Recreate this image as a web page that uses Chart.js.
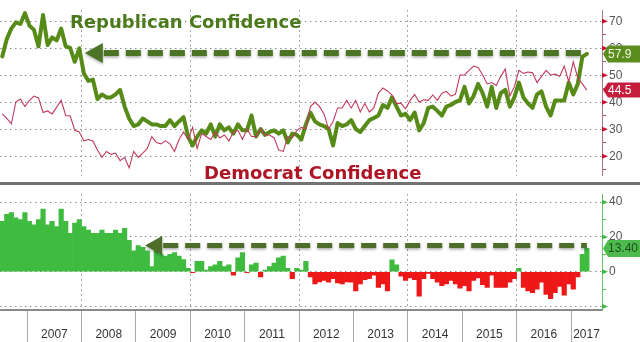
<!DOCTYPE html>
<html><head><meta charset="utf-8">
<script src="https://cdn.jsdelivr.net/npm/chart.js@4.4.1/dist/chart.umd.min.js"></script>
<style>
html,body{margin:0;padding:0;background:#fff;}
#wrap{position:relative;width:640px;height:342px;overflow:hidden;background:#fff;}
canvas{position:absolute;left:0;}
.ann{position:absolute;font:bold 18px "DejaVu Sans";line-height:18px;white-space:nowrap;}
</style></head><body>
<div id="wrap">
<canvas id="top" width="640" height="186" style="top:0"></canvas>
<canvas id="bot" width="640" height="158" style="top:184px"></canvas>
<div style="position:absolute;left:0;top:182px;width:640px;height:3px;background:#727272"></div>
<div class="ann" style="left:70px;top:13px;color:#4b7a1c">Republican Confidence</div>
<div class="ann" style="left:204px;top:164px;color:#ad1424">Democrat Confidence</div>
</div>
<script>
// ---- data (monthly, Jul 2006 .. Apr 2017) ----
const firstYear = 2006, firstMonth = 7;
const yearLabels = ['2007','2008','2009','2010','2011','2012','2013','2014','2015','2016','2017'];

const republican = [
57.0,63.4,67.3,69.6,69.0,73.0,68.4,66.8,60.7,72.3,
61.2,64.0,62.9,67.3,60.7,60.1,55.0,60.0,50.7,47.9,
48.4,41.2,42.9,41.8,41.8,42.9,44.6,38.4,34.0,31.2,
31.8,34.0,32.9,31.8,31.8,31.2,31.2,33.4,31.2,32.9,
34.5,27.3,24.0,27.3,29.6,28.4,31.8,27.3,31.8,29.6,
30.7,28.4,31.8,29.6,29.6,35.1,27.3,30.1,27.9,29.0,
29.6,28.4,29.6,25.1,28.4,27.9,26.2,31.8,36.2,32.9,
31.8,31.2,30.1,24.0,32.3,31.2,31.8,33.4,30.1,29.0,
31.2,33.4,34.2,35.1,39.0,37.9,41.8,38.4,35.1,35.7,
33.4,36.2,29.6,32.3,37.9,38.4,36.8,35.1,38.4,39.0,
40.1,40.7,45.7,39.6,42.3,46.8,43.4,38.4,45.7,37.9,
43.4,44.6,38.4,41.8,47.3,41.8,39.6,37.9,42.9,44.0,
38.4,35.1,40.7,40.7,40.7,47.3,42.9,46.8,56.8,57.9];

const democrat = [
35.7,34.0,32.0,40.1,41.2,38.4,40.7,42.3,41.6,36.2,
36.8,35.7,38.2,40.7,35.1,34.9,29.6,29.0,25.7,26.2,
25.7,22.3,19.6,21.8,20.7,21.2,18.4,19.6,15.7,21.8,
19.6,21.2,22.9,27.3,25.1,24.6,25.7,24.6,21.8,26.2,
29.0,26.2,30.7,22.9,28.4,27.3,26.2,29.0,26.8,27.9,
25.7,29.0,29.6,26.2,30.1,27.3,27.3,30.1,27.9,27.9,
26.8,22.3,21.8,27.3,26.8,29.6,30.7,30.1,38.4,40.1,
38.4,35.7,30.1,32.9,37.9,37.9,40.7,37.9,40.7,36.4,
39.6,36.4,37.9,43.4,45.3,44.2,42.7,39.6,39.6,37.6,
40.7,42.9,40.1,40.9,40.7,42.7,40.7,43.4,44.0,42.3,
42.9,50.1,50.1,51.8,53.4,52.9,50.1,46.8,47.3,46.2,
49.6,52.3,42.3,45.7,51.8,50.7,51.2,50.9,47.3,49.6,
51.8,50.1,50.4,49.6,53.4,47.6,55.0,49.0,46.8,44.5];

const spread = [
29,33,34,31,30,34,29,27,30,36,
27,29,26,36,29,22,28,30,26,24,
22,22,24,22,22,24,22,25,18,12,
15,14,12,3,12,10,9,10,11,9,
7,2,-0.5,6,6,1,3,4,6,3,
4,-2,8,11,-0.5,4,5,-3,1,3,
5,8,9,2,-4,2,1,6,-3,-7,
-5.8,-5,-6,-4,-6.5,-7,-5.8,-6,-11,-7,
-4.5,-4,-2,-9,-7,-11,6.8,4,-2.5,-5,
-3.5,-4.5,-14,-4,-1,-4,-6,-8,-7,-5,
-7,-9.5,-8,-11,-5,-3.5,-7.5,-9,-2,-9,
-9,-9,-6,-4,2,-9,-11,-12,-10,-6,
-13,-15.5,-12,-8.5,-13.5,-7,-10,-3,10,13.4];

const topTicks = [15,20,25,30,35,40,45,50,55,60,65,70];
const botTicks = [-20,-10,0,10,20,30,40];

// ---- build ----
const X_MIN = 2006.5, X_MAX = 2017.57;
const xOf = i => firstYear + (firstMonth - 1 + i + 0.5) / 12;
const pts = arr => arr.map((v, i) => ({x: xOf(i), y: v}));
const lastX = xOf(republican.length - 1);

function yearTicks(scale) {
  const t = [];
  yearLabels.forEach(lab => {
    const yr = +lab;
    t.push({value: yr});
    t.push({value: Math.min(yr + 0.5, (yr + X_MAX) / 2)});
  });
  scale.ticks = t;
}
const isBoundary = v => Math.abs(v - Math.round(v)) < 1e-6;
const dotted = [1.5, 3.5];

const tagPlugin = {
  id: 'tags',
  afterDraw(chart, args, o) {
    const ctx = chart.ctx, y = chart.scales.y, r = chart.chartArea.right;
    ctx.save();
    (o.majors || []).forEach(v => {
      const p = y.getPixelForValue(v);
      ctx.fillStyle = o.triColor;
      ctx.beginPath(); ctx.moveTo(r, p - 2.5); ctx.lineTo(r + 6, p); ctx.lineTo(r, p + 2.5); ctx.closePath(); ctx.fill();
    });
    (o.items || []).forEach(it => {
      const yc = y.getPixelForValue(it.value), h = it.h;
      ctx.fillStyle = it.bg;
      ctx.beginPath();
      ctx.moveTo(r + 1, yc); ctx.lineTo(r + 6, yc - h / 2); ctx.lineTo(640, yc - h / 2);
      ctx.lineTo(640, yc + h / 2); ctx.lineTo(r + 6, yc + h / 2); ctx.closePath(); ctx.fill();
      ctx.fillStyle = it.fg; ctx.font = '12px "Liberation Sans"'; ctx.textBaseline = 'middle'; ctx.textAlign = 'left';
      ctx.fillText(it.text, r + 6, yc + 0.5);
    });
    ctx.restore();
  }
};
const arrowPlugin = {
  id: 'arrow',
  afterDatasetsDraw(chart, args, o) {
    const ctx = chart.ctx, xs = chart.scales.x, ys = chart.scales.y;
    const yy = ys.getPixelForValue(o.value) + (o.dy || 0), x0 = xs.getPixelForValue(o.from), x1 = xs.getPixelForValue(o.to);
    ctx.save();
    ctx.shadowColor = 'rgba(0,0,0,0.35)'; ctx.shadowBlur = 3; ctx.shadowOffsetY = 1.5;
    ctx.strokeStyle = o.color; ctx.lineWidth = o.width; ctx.setLineDash([15, 7]);
    ctx.beginPath(); ctx.moveTo(x0 + o.head + 1, yy); ctx.lineTo(x1, yy); ctx.stroke();
    ctx.setLineDash([]); ctx.fillStyle = o.color;
    ctx.beginPath(); ctx.moveTo(x0, yy); ctx.lineTo(x0 + o.head, yy - o.head / 2 - 1); ctx.lineTo(x0 + o.head, yy + o.head / 2 + 1); ctx.closePath(); ctx.fill();
    ctx.restore();
  }
};

const font12 = {family: '"Liberation Sans"', size: 12};

new Chart(document.getElementById('top'), {
  type: 'line',
  data: {datasets: [
    {data: pts(democrat), borderColor: '#c03a5c', borderWidth: 1.1, pointRadius: 0, tension: 0},
    {data: pts(republican), borderColor: '#578b17', borderWidth: 4, pointRadius: 0, tension: 0, borderJoinStyle: 'round', borderCapStyle: 'round'}
  ]},
  plugins: [arrowPlugin, tagPlugin],
  options: {
    responsive: false, animation: false, devicePixelRatio: 1, layout: {padding: 0},
    plugins: {
      legend: {display: false}, tooltip: {enabled: false},
      arrow: {value: republican[republican.length - 1], from: 2008.06, to: lastX, color: '#4b7424', width: 6, head: 18, dy: -1},
      tags: {triColor: '#c8102e', majors: [20, 30, 40, 50, 60, 70], items: [
        {value: republican[republican.length - 1], text: republican[republican.length - 1].toFixed(1), bg: '#5b8c1e', fg: '#eef5e0', h: 17},
        {value: democrat[democrat.length - 1], text: democrat[democrat.length - 1].toFixed(1), bg: '#c41e3c', fg: '#ffffff', h: 15}
      ]}
    },
    scales: {
      x: {type: 'linear', min: X_MIN, max: X_MAX, afterBuildTicks: yearTicks, afterFit: s => { s.height = 2; },
        ticks: {display: false},
        grid: {drawTicks: false, color: c => (c.tick && isBoundary(c.tick.value) && Math.round(c.tick.value) % 2 === 0) ? '#8c8c8c' : 'transparent'},
        border: {display: false, dash: dotted}},
      y: {position: 'right', min: 12.77, max: 74.1,
        afterBuildTicks: s => { s.ticks = topTicks.map(v => ({value: v})); },
        afterFit: s => { s.width = 38; },
        ticks: {autoSkip: false, padding: 3, color: '#555', font: font12, callback: v => v % 10 === 0 ? String(v) : ''},
        grid: {tickLength: 4, color: c => (c.tick && c.tick.value % 10 === 0) ? '#8c8c8c' : 'transparent',
          tickColor: c => (c.tick && c.tick.value % 10 === 0) ? 'transparent' : '#a0506a', tickBorderDash: []},
        border: {display: true, color: '#a87a8c', width: 1, dash: dotted}}
    }
  }
});

new Chart(document.getElementById('bot'), {
  type: 'bar',
  data: {datasets: [{data: pts(spread), backgroundColor: c => (c.raw && c.raw.y < 0) ? '#ef1818' : '#3fbb3f',
    borderWidth: 0, barPercentage: 1, categoryPercentage: 1}]},
  plugins: [arrowPlugin, tagPlugin],
  options: {
    responsive: false, animation: false, devicePixelRatio: 1, layout: {padding: {top: 2}},
    plugins: {
      legend: {display: false}, tooltip: {enabled: false},
      arrow: {value: spread[spread.length - 1], from: 2009.17, to: lastX, color: '#4d6e28', width: 5, head: 17, dy: -3},
      tags: {triColor: '#3cb83c', majors: [-20, 0, 20, 40], items: [
        {value: spread[spread.length - 1], text: spread[spread.length - 1].toFixed(2), bg: '#4cbb4c', fg: '#1d4d1d', h: 17}
      ]}
    },
    scales: {
      x: {type: 'linear', min: X_MIN, max: X_MAX, offset: false, afterBuildTicks: yearTicks, afterFit: s => { s.height = 32; },
        ticks: {autoSkip: false, maxRotation: 0, minRotation: 0, padding: -15, color: '#333', font: font12,
          callback: v => isBoundary(v) ? '' : yearLabels[Math.floor(v) - +yearLabels[0]]},
        grid: {offset: false, tickLength: 32, tickBorderDash: [],
          color: c => (c.tick && isBoundary(c.tick.value) && Math.round(c.tick.value) % 2 === 0) ? '#8c8c8c' : 'transparent',
          tickColor: c => (c.tick && isBoundary(c.tick.value)) ? '#a8a8a8' : 'transparent'},
        border: {display: true, color: '#8a8a8a', width: 2, dash: dotted}},
      y: {position: 'right', min: -22, max: 44.56,
        afterBuildTicks: s => { s.ticks = botTicks.map(v => ({value: v})); },
        afterFit: s => { s.width = 38; },
        ticks: {autoSkip: false, padding: 3, color: '#555', font: font12, callback: v => (v >= 0 && v % 20 === 0) ? String(v) : ''},
        grid: {tickLength: 4, color: c => (c.tick && c.tick.value % 20 === 0) ? '#8c8c8c' : 'transparent',
          tickColor: c => (c.tick && c.tick.value % 20 === 0) ? 'transparent' : '#5cb85c', tickBorderDash: []},
        border: {display: true, color: '#6cc06c', width: 1, dash: dotted}}
    }
  }
});
</script>
</body></html>
